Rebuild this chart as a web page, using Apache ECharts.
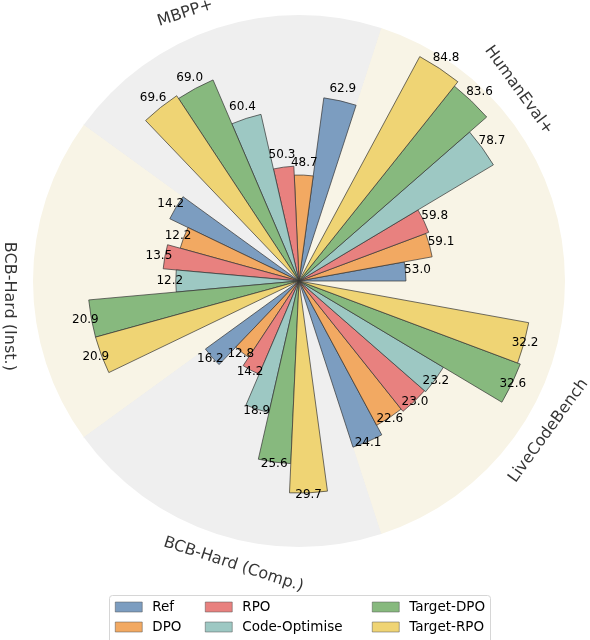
<!DOCTYPE html>
<html>
<head>
<meta charset="utf-8">
<script src="https://cdn.jsdelivr.net/npm/echarts@6/dist/echarts.min.js"></script>
<style>
html,body{margin:0;padding:0;background:#ffffff;}
#chart{width:590px;height:640px;}
</style>
</head>
<body>
<div id="chart"></div>
<script>
// ---- data ----
const benchmarks = ['HumanEval+', 'MBPP+', 'BCB-Hard (Inst.)', 'BCB-Hard (Comp.)', 'LiveCodeBench'];
const methods = ['Ref', 'DPO', 'RPO', 'Code-Optimise', 'Target-DPO', 'Target-RPO'];
const refScores       = [53.0, 62.9, 14.2, 16.2, 24.1];
const dpoScores       = [59.1, 48.7, 12.2, 12.8, 22.6];
const rpoScores       = [59.8, 50.3, 13.5, 14.2, 23.0];
const codeOptScores   = [78.7, 60.4, 12.2, 18.9, 23.2];
const targetDpoScores = [83.6, 69.0, 20.9, 25.6, 32.6];
const targetRpoScores = [84.8, 69.6, 20.9, 29.7, 32.2];
// per-benchmark radial scaling (each benchmark has its own radial scale): r = gain * (score - base)
const radialGain = [4.65, 5.55, 10.1, 7.14, 7.25];
const radialBase = [30, 29.6, 0, 0, 0];

const allScores = [refScores, dpoScores, rpoScores, codeOptScores, targetDpoScores, targetRpoScores];

// ---- style ----
const colors = ['#7c9dc0', '#f2a962', '#e8817f', '#9dc8c3', '#87b97e', '#efd474'];
const labelDistance = [12, 12, 6, 2, 1];
const slotsPerBench = 7;
const polarRadius = 266;
const FONT = 'DejaVu Sans';

// angle slots: 6 bars + 1 gap per benchmark
const slotNames = [];
benchmarks.forEach(function (b) {
  for (let j = 0; j < slotsPerBench; j++) slotNames.push(b + '#' + j);
});

const barSeries = methods.map(function (m, mi) {
  const data = [];
  benchmarks.forEach(function (b, k) {
    for (let j = 0; j < slotsPerBench; j++) {
      if (j === mi) {
        const v = allScores[mi][k];
        data.push({
          value: radialGain[k] * (v - radialBase[k]),
          raw: v,
          label: { distance: labelDistance[k] }
        });
      } else {
        data.push('-');
      }
    }
  });
  return {
    name: m,
    type: 'bar',
    coordinateSystem: 'polar',
    polarIndex: 0,
    data: data,
    barGap: '-100%',
    barCategoryGap: '0%',
    itemStyle: { color: colors[mi], borderColor: '#333333', borderWidth: 0.7 },
    label: {
      show: true,
      position: 'end',
      rotate: 0,
      align: 'center',
      verticalAlign: 'middle',
      color: '#000000',
      fontSize: 12,
      fontFamily: FONT,
      formatter: function (p) { return p.data.raw.toFixed(1); }
    },
    emphasis: { disabled: true },
    z: 3
  };
});

// category name labels around the rim
const benchLabelData = benchmarks.map(function (b, k) {
  let rot = 72 * k + 36 - 90;
  if (rot >= 90) rot -= 180;
  return { name: b, value: [1, 72 * k + 41], label: { rotate: rot } };
});

const option = {
  backgroundColor: '#ffffff',
  animation: false,
  polar: [
    { center: [299, 281], radius: polarRadius },
    { center: [299, 281], radius: 291 }
  ],
  angleAxis: [
    {
      polarIndex: 0,
      type: 'category',
      data: slotNames,
      startAngle: 0,
      clockwise: false,
      boundaryGap: true,
      axisLine: { show: false },
      axisTick: { show: false, interval: slotsPerBench - 1 },
      axisLabel: { show: false },
      splitLine: { show: true, lineStyle: { color: '#e6e3da', width: 0.8 } },
      splitArea: { show: true, areaStyle: { color: ['#f8f4e6', '#efefef'] } },
      z: 1
    },
    {
      polarIndex: 1,
      type: 'value',
      min: 0,
      max: 360,
      startAngle: 0,
      clockwise: false,
      show: false
    }
  ],
  radiusAxis: [
    { polarIndex: 0, type: 'value', min: 0, max: polarRadius, show: false },
    { polarIndex: 1, type: 'value', min: 0, max: 1, show: false }
  ],
  legend: [
    { data: ['Ref', 'DPO'], left: 115, top: 600 },
    { data: ['RPO', 'Code-Optimise'], left: 205, top: 600 },
    { data: ['Target-DPO', 'Target-RPO'], left: 372, top: 600 }
  ].map(function (l) {
    return Object.assign(l, {
      orient: 'vertical',
      itemWidth: 27,
      itemHeight: 10,
      itemGap: 6,
      padding: 0,
      icon: 'rect',
      selectedMode: false,
      itemStyle: { borderColor: '#555555', borderWidth: 0.5 },
      textStyle: { fontSize: 13.5, fontFamily: FONT, color: '#000', lineHeight: 14, padding: [0, 0, 0, 5] }
    });
  }),
  graphic: [
    {
      type: 'rect',
      left: 109,
      top: 595,
      shape: { width: 381, height: 60, r: 3 },
      style: { fill: 'rgba(255,255,255,0.85)', stroke: '#d6d6d6', lineWidth: 1 },
      z: 0
    }
  ],
  series: barSeries.concat([
    {
      type: 'scatter',
      coordinateSystem: 'polar',
      polarIndex: 1,
      symbolSize: 0,
      data: benchLabelData,
      label: {
        show: true,
        position: 'inside',
        align: 'center',
        verticalAlign: 'middle',
        formatter: '{b}',
        fontSize: 16,
        fontFamily: FONT,
        color: '#000000'
      },
      emphasis: { disabled: true },
      silent: true
    }
  ])
};

const chart = echarts.init(document.getElementById('chart'), null, { renderer: 'canvas' });
chart.setOption(option);
</script>
</body>
</html>
